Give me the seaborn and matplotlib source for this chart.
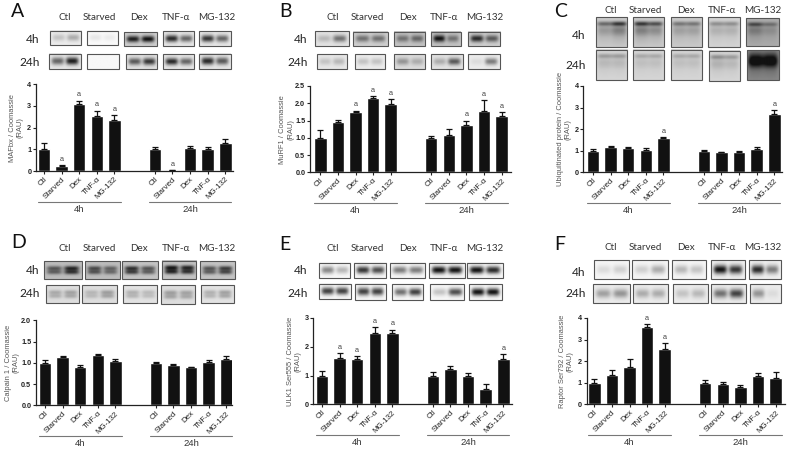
import numpy as np
import matplotlib
matplotlib.use("Agg")
import matplotlib.pyplot as plt
import seaborn as sns

sns.set_style("ticks")
plt.rcParams['font.family'] = ['Liberation Sans', 'DejaVu Sans']

W, H = 787, 451
treatments = ["Ctl", "Starved", "Dex", "TNF-α", "MG-132"]
times = ["4h", "24h"]

# ---- values (4h, 24h), errors, and "a" significance marks
A_4h = [1.00, 0.22, 3.07, 2.53, 2.37]; A_4h_err = [0.27, 0.05, 0.18, 0.26, 0.23]
A_24h = [1.00, 0.03, 1.08, 1.03, 1.31]; A_24h_err = [0.13, 0.02, 0.09, 0.10, 0.15]
A_sig = [1, 2, 3, 4, 6]
B_4h = [1.00, 1.45, 1.74, 2.16, 1.98]; B_4h_err = [0.22, 0.07, 0.05, 0.05, 0.14]
B_24h = [1.00, 1.09, 1.38, 1.79, 1.62]; B_24h_err = [0.06, 0.15, 0.12, 0.29, 0.12]
B_sig = [2, 3, 4, 7, 8, 9]
C_4h = [1.00, 1.19, 1.14, 1.03, 1.60]; C_4h_err = [0.10, 0.02, 0.04, 0.08, 0.05]
C_24h = [1.00, 0.92, 0.96, 1.10, 2.72]; C_24h_err = [0.02, 0.01, 0.02, 0.05, 0.15]
C_sig = [4, 9]
D_4h = [1.00, 1.13, 0.89, 1.18, 1.05]; D_4h_err = [0.06, 0.04, 0.05, 0.03, 0.05]
D_24h = [1.00, 0.95, 0.90, 1.02, 1.10]; D_24h_err = [0.01, 0.03, 0.01, 0.05, 0.05]
D_sig = []
E_4h = [1.00, 1.60, 1.56, 2.47, 2.47]; E_4h_err = [0.15, 0.17, 0.13, 0.21, 0.13]
E_24h = [1.00, 1.21, 0.97, 0.53, 1.56]; E_24h_err = [0.14, 0.12, 0.12, 0.16, 0.18]
E_sig = [1, 2, 3, 4, 9]
F_4h = [1.00, 1.35, 1.73, 3.58, 2.54]; F_4h_err = [0.16, 0.22, 0.35, 0.12, 0.30]
F_24h = [1.00, 0.95, 0.80, 1.30, 1.20]; F_24h_err = [0.14, 0.08, 0.10, 0.13, 0.28]
F_sig = [3, 4]

# ---- blot band darkness (left lane, right lane) and background darkness per blot
A_b4 = [(.25,.35),(.10,.08),(.95,1.0),(.90,.65),(.85,.65)]; A_g4 = [.08,.02,.20,.10,.10]
A_b24 = [(.65,.95),(.03,.03),(.70,.85),(.90,.65),(.90,.70)]; A_g24 = [.10,.03,.12,.10,.10]
B_b4 = [(.30,.60),(.60,.60),(.60,.65),(1.0,.60),(.90,.70)]; B_g4 = [.12,.20,.25,.25,.20]
B_b24 = [(.25,.30),(.25,.25),(.45,.35),(.35,.70),(.15,.55)]; B_g24 = [.10,.08,.15,.12,.08]
C_b4 = [(.60,.80),(.80,.70),(.55,.55),(.45,.45),(.75,.60)]; C_g4 = [.22,.22,.22,.18,.35]
C_b24 = [(.40,.40),(.35,.35),(.35,.35),(.45,.40),(1.0,1.0)]; C_g24 = [.17,.17,.17,.17,.50]
D_b4 = [(.70,.90),(.75,.65),(.85,.70),(.95,.90),(.70,.80)]; D_g4 = [.28,.28,.25,.25,.25]
D_b24 = [(.35,.38),(.30,.40),(.32,.28),(.40,.38),(.32,.38)]; D_g24 = [.14,.14,.12,.14,.12]
E_b4 = [(.50,.30),(.85,.75),(.55,.55),(1.0,1.0),(1.0,.90)]; E_g4 = [.03,.03,.03,.03,.03]
E_b24 = [(.80,.80),(.80,.80),(.60,.80),(.25,.75),(1.0,1.0)]; E_g24 = [.03,.03,.03,.03,.03]
F_b4 = [(.15,.20),(.20,.35),(.30,.25),(1.0,.85),(.90,.55)]; F_g4 = [.04,.04,.04,.06,.06]
F_b24 = [(.40,.45),(.35,.35),(.25,.30),(.60,.80),(.45,.15)]; F_g24 = [.08,.08,.08,.08,.08]

panels = [
 dict(letter="A", org=(0,0), ylabel="MAFbx / Coomassie\n(RAU)", ymax=4, ticks=[0,1,2,3,4], fmt="{:.0f}",
      axis=(36,84.3,233,171), c0=44, v=(A_4h,A_24h,A_4h_err,A_24h_err), sig=A_sig, blot=(A_b4,A_g4,A_b24,A_g24),
      r4=[(150,92,244,136),(262,92,355,136),(373,95,470,137),(488,94,583,139),(598,94,694,139)],
      r24=[(148,162,243,208),(260,163,357,208),(377,163,472,208),(488,163,583,208),(598,162,694,208)],
      head=(53,118,187), letter_xy=(33,35), ylx=(34,62)),
 dict(letter="B", org=(270,0), ylabel="MuRF1 / Coomassie\n(RAU)", ymax=2.5, ticks=[0,.5,1,1.5,2,2.5], fmt="{:.1f}",
      axis=(310,86,510.7,172.3), c0=320.3, v=(B_4h,B_24h,B_4h_err,B_24h_err), sig=B_sig, blot=(B_b4,B_g4,B_b24,B_g24),
      r4=[(136,94,236,139),(250,95,354,139),(371,95,465,139),(484,95,574,139),(593,95,691,139)],
      r24=[(142,163,232,208),(256,163,346,208),(372,163,466,208),(484,163,578,208),(595,163,690,208)],
      head=(53,118,187), letter_xy=(28,35), ylx=(38,62)),
 dict(letter="C", org=(530,0), ylabel="Ubiquitinated protein / Coomassie\n(RAU)", ymax=4, ticks=[0,1,2,3,4], fmt="{:.0f}",
      axis=(583.3,86,781.7,172.3), c0=593, v=(C_4h,C_24h,C_4h_err,C_24h_err), sig=C_sig, blot=(C_b4,C_g4,C_b24,C_g24),
      r4=[(197,52,291,140),(310,52,402,140),(423,52,515,140),(535,52,630,140),(649,55,746,137)],
      r24=[(197,150,291,241),(310,150,402,241),(423,150,515,241),(538,152,630,243),(652,150,747,240)],
      head=(32,107,197), letter_xy=(72,35), ylx=(90,116)),
 dict(letter="D", org=(0,225), ylabel="Calpain 1 / Coomassie\n(RAU)", ymax=2, ticks=[0,.5,1,1.5,2], fmt="{:.1f}",
      axis=(36,320.3,231.7,405.3), c0=45, v=(D_4h,D_24h,D_4h_err,D_24h_err), sig=D_sig, blot=(D_b4,D_g4,D_b24,D_g24),
      r4=[(132,109,245,163),(255,108,359,161),(367,109,474,163),(485,108,588,163),(601,109,704,163)],
      r24=[(137,180,236,233),(247,180,351,233),(370,181,472,235),(483,181,586,236),(602,181,701,235)],
      head=(71,136,206), letter_xy=(33,52), ylx=(22,50)),
 dict(letter="E", org=(270,225), ylabel="ULK1 Ser555 / Coomassie\n(RAU)", ymax=3, ticks=[0,1,2,3], fmt="{:.0f}",
      axis=(313.3,318,511.7,404.3), c0=322, v=(E_4h,E_24h,E_4h_err,E_24h_err), sig=E_sig, blot=(E_b4,E_g4,E_b24,E_g24),
      r4=[(147,114,241,160),(252,114,349,160),(361,114,466,160),(477,114,584,160),(592,114,698,160)],
      r24=[(147,176,243,222),(256,176,348,226),(366,178,460,226),(479,178,583,226),(598,178,695,226)],
      head=(71,136,206), letter_xy=(28,58), ylx=(60,84)),
 dict(letter="F", org=(530,225), ylabel="Raptor Ser792 / Coomassie\n(RAU)", ymax=4, ticks=[0,1,2,3,4], fmt="{:.0f}",
      axis=(586.7,318,785,404.3), c0=594.3, v=(F_4h,F_24h,F_4h_err,F_24h_err), sig=F_sig, blot=(F_b4,F_g4,F_b24,F_g24),
      r4=[(191,105,298,161),(307,105,414,161),(427,105,529,161),(544,105,645,161),(656,105,752,161)],
      r24=[(188,178,300,235),(310,178,415,235),(430,178,533,235),(543,178,647,235),(659,178,752,235)],
      head=(66,141,206), letter_xy=(72,58), ylx=(95,122)),
]
head_x = {"A": [193,298,418,528,651], "B": [187,292,413,522,645], "C": [241,346,467,575,699],
          "D": [193,298,418,528,651], "E": [187,292,413,522,645], "F": [241,346,467,575,699]}
row_right = {"A": 118, "B": 112, "C": 166, "D": 118, "E": 112, "F": 166}

STEP = 17.6
GAP = 6.3
BAR_PX = 12.5
BAR_C = "#111111"
TXT = "#333333"
HEADF = ['Lato', 'DejaVu Sans']

fig = plt.figure(figsize=(W/100, H/100), dpi=100, facecolor="white")
over = fig.add_axes([0, 0, 1, 1], zorder=5)
over.set_xlim(0, W); over.set_ylim(H, 0); over.axis("off"); over.patch.set_alpha(0)


def blot_image(w, h, lanes, bg, doublet, smear):
    yy, xx = np.mgrid[0:1:complex(0, max(h*2, 8)), 0:1:complex(0, max(w*2, 8))]
    img = np.full(xx.shape, bg, dtype=float)
    for cx, d in zip((0.27, 0.73), lanes):
        lane = np.exp(-((xx-cx)/(0.24 if smear else 0.2))**4)
        if smear:
            top = d >= 1.0
            cy = 0.3 if top else 0.22
            sy = 0.22 if top else 0.08
            img += lane*(d-bg)*np.exp(-((yy-cy)/sy)**2)
            img += lane*(d-bg)*0.45*np.exp(-((yy-0.42)/0.16)**2)
            img += lane*(d-bg)*0.25*np.clip((yy-0.3)/0.3, 0, 1)*np.clip((1.05-yy)/0.5, 0, 1)
        elif doublet:
            img += lane*(d-bg)*np.exp(-((yy-0.40)/0.13)**2)
            img += lane*(d-bg)*0.9*np.exp(-((yy-0.62)/0.13)**2)
        else:
            img += lane*(d-bg)*np.exp(-((yy-0.50)/0.24)**2)
    return 1 - 0.93*np.clip(img, 0, 1)


for p in panels:
    ox, oy = p["org"]
    L = p["letter"]
    # western-blot strips
    b4, g4, b24, g24 = p["blot"]
    for rects, bands, gs in ((p["r4"], b4, g4), (p["r24"], b24, g24)):
        for (x0, y0, x1, y1), lanes, bg in zip(rects, bands, gs):
            x0, x1 = ox+x0/3, ox+x1/3
            y0, y1 = oy+y0/3, oy+y1/3
            im = blot_image(x1-x0, y1-y0, lanes, bg, L == "D", L == "C")
            over.imshow(im, cmap="gray", vmin=0, vmax=1, extent=(x0, x1, y1, y0),
                        aspect="auto", interpolation="bilinear", zorder=1)
            over.add_patch(plt.Rectangle((x0, y0), x1-x0, y1-y0, fill=False, ec="#555555", lw=0.8, zorder=2))
    # headers and row names
    h0, r4y, r24y = p["head"]
    for name, hx in zip(treatments, head_x[L]):
        over.text(ox+hx/3, oy+h0/3, name, ha="center", va="center", fontsize=7.1, family=HEADF, color=TXT)
    for name, ry in zip(times, (r4y, r24y)):
        over.text(ox+row_right[L]/3, oy+ry/3, name, ha="right", va="center", fontsize=8.6, family=HEADF, color="#222222")
    lx, ly = p["letter_xy"]
    over.text(ox+lx/3, oy+ly/3, L, ha="left", va="center", fontsize=14, family=HEADF, color="#111111")

    # bar chart
    ax0, ay0, ax1, ay1 = p["axis"]
    ax = fig.add_axes([ax0/W, 1-ay1/H, (ax1-ax0)/W, (ay1-ay0)/H], zorder=3)
    ax.patch.set_alpha(0)
    v4, v24, e4, e24 = p["v"]
    vals = np.array(list(v4)+list(v24))
    errs = np.array(list(e4)+list(e24))
    pos = np.r_[np.arange(5.0), np.arange(5.0)+GAP]
    sns.barplot(x=pos, y=vals, native_scale=True, color=BAR_C, saturation=1, errorbar=None,
                width=BAR_PX/STEP, ax=ax, legend=False)
    ax.errorbar(pos, vals, yerr=[np.zeros_like(errs), errs], fmt="none", ecolor=BAR_C,
                elinewidth=0.9, capsize=2.4, capthick=0.9, zorder=4)
    ax.set_xlim((ax0-p["c0"])/STEP, (ax1-p["c0"])/STEP)
    ax.set_ylim(0, p["ymax"])
    ax.set_xticks(pos)
    ax.set_xticklabels(treatments*2, rotation=45, ha="right", rotation_mode="anchor",
                       fontsize=5.7, color="#222222")
    ax.set_yticks(p["ticks"])
    ax.set_yticklabels([p["fmt"].format(t) for t in p["ticks"]], fontsize=5.2, color="#222222", fontweight="bold")
    ax.tick_params(axis="both", length=2.2, width=0.8, pad=1.2, color="#222222")
    for s in ("top", "right"):
        ax.spines[s].set_visible(False)
    for s in ("left", "bottom"):
        ax.spines[s].set_linewidth(0.9)
        ax.spines[s].set_color("#222222")
    ax.set_xlabel(""); ax.set_ylabel("")
    for i in p["sig"]:
        ax.annotate("a", (pos[i], vals[i]+errs[i]), xytext=(0, 1.5), textcoords="offset points",
                    ha="center", va="bottom", fontsize=5.2, color="#444444")
    # y label
    yc = (ay0+ay1)/2
    over.text(ox+(p["ylx"][0]+p["ylx"][1])/6, yc, p["ylabel"], rotation=90, ha="center", va="center",
              fontsize=5.4, color="#555555", linespacing=1.15)
    # time-group brackets
    for k, name in enumerate(times):
        xa = p["c0"] + (k*GAP-0.36)*STEP
        xb = p["c0"] + (k*GAP+4.35)*STEP
        over.plot([xa, xb], [ay1+31, ay1+31], color="#777777", lw=0.8, zorder=2)
        over.text((xa+xb)/2, ay1+38.5, name, ha="center", va="center", fontsize=6.8, color="#333333")

over.set_xlim(0, W); over.set_ylim(H, 0)
fig.savefig("out.png", dpi=100)
